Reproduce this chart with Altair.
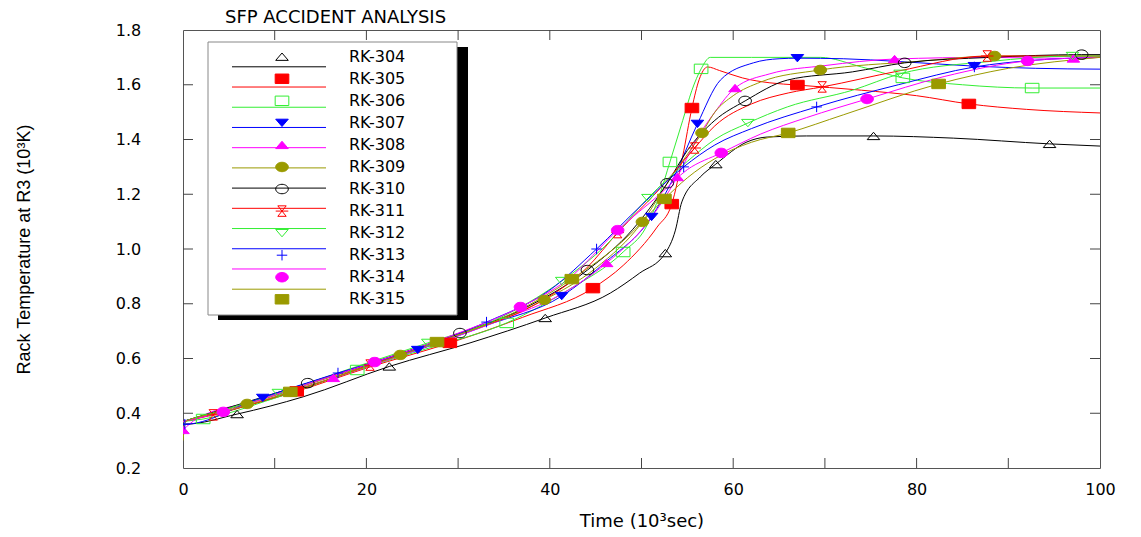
import altair as alt
import pandas as pd

# ---------------- data ----------------
SERIES = ["RK-304", "RK-305", "RK-306", "RK-307", "RK-308", "RK-309",
          "RK-310", "RK-311", "RK-312", "RK-313", "RK-314", "RK-315"]
COLORS = ["#000000", "#ff0000", "#33ee33", "#0000ff", "#ff00ff", "#9a9a00",
          "#000000", "#ff0000", "#33ee33", "#0000ff", "#ff00ff", "#9a9a00"]

X_304 = [0, 0.2, 5.9, 13.1, 22.5, 31.3, 39.5, 46.6, 49.8, 52.6, 53.7, 54.4, 56.4, 58.1, 61.5, 63.7, 68, 75.3, 84, 94.5, 100]
T_304 = [0.36, 0.36, 0.397, 0.46, 0.571, 0.657, 0.748, 0.839, 0.912, 0.985, 1.069, 1.172, 1.263, 1.31, 1.391, 1.409, 1.413, 1.413, 1.405, 1.384, 1.376]
MX_304 = [5.9, 22.5, 39.5, 52.6, 58.1, 75.3, 94.5]
MT_304 = [0.397, 0.571, 0.748, 0.985, 1.31, 1.413, 1.384]

X_305 = [0, 5, 12.4, 20, 29.1, 37, 44.7, 48, 51.7, 53.3, 54.5, 55.5, 56.3, 57.2, 58.5, 61, 64, 67, 74, 80, 85.7, 92, 100]
T_305 = [0.37, 0.41, 0.48, 0.565, 0.657, 0.75, 0.857, 0.94, 1.08, 1.164, 1.34, 1.515, 1.62, 1.665, 1.652, 1.625, 1.607, 1.599, 1.58, 1.56, 1.53, 1.51, 1.497]
MX_305 = [12.4, 29.1, 44.7, 53.3, 55.5, 67, 85.7]
MT_305 = [0.48, 0.657, 0.857, 1.164, 1.515, 1.599, 1.53]

X_306 = [0, 2.2, 10, 19, 27, 35.3, 42, 48, 50.5, 52, 53.1, 54.5, 55.5, 56.5, 57.5, 62, 69.5, 74, 78.5, 85, 92.6, 100]
T_306 = [0.37, 0.379, 0.455, 0.558, 0.64, 0.73, 0.85, 0.989, 1.08, 1.2, 1.318, 1.47, 1.58, 1.658, 1.70, 1.70, 1.70, 1.665, 1.625, 1.60, 1.588, 1.588]
MX_306 = [2.2, 19, 35.3, 48, 53.1, 56.5, 78.5, 92.6]
MT_306 = [0.379, 0.558, 0.73, 0.989, 1.318, 1.658, 1.625, 1.588]

X_307 = [0, 8.7, 17, 25.6, 33, 41.3, 46, 51.1, 53.5, 56.1, 58.6, 62.2, 65, 67, 72, 78, 86.3, 93, 100]
T_307 = [0.37, 0.456, 0.545, 0.631, 0.72, 0.828, 0.95, 1.117, 1.26, 1.457, 1.617, 1.68, 1.695, 1.697, 1.695, 1.685, 1.668, 1.66, 1.657]
MX_307 = [8.7, 25.6, 41.3, 51.1, 56.1, 67, 86.3]
MT_307 = [0.456, 0.631, 0.828, 1.117, 1.457, 1.697, 1.668]

X_308 = [0, 1.5, 8, 16.4, 25, 35, 41, 46.2, 50.5, 53.9, 56, 58, 60.2, 64, 70, 77.6, 88, 97.1, 100]
T_308 = [0.339, 0.38, 0.445, 0.529, 0.625, 0.745, 0.83, 0.949, 1.09, 1.263, 1.40, 1.50, 1.588, 1.64, 1.67, 1.694, 1.70, 1.696, 1.70]
MX_308 = [0, 16.4, 46.2, 53.9, 60.2, 77.6, 97.1]
MT_308 = [0.339, 0.529, 0.949, 1.263, 1.588, 1.694, 1.696]

X_309 = [0, 7, 15, 23.7, 31, 39.4, 45, 50.1, 53, 56.6, 58, 60, 63, 69.5, 80, 88.5, 100]
T_309 = [0.37, 0.434, 0.52, 0.613, 0.70, 0.814, 0.93, 1.099, 1.25, 1.424, 1.50, 1.56, 1.61, 1.654, 1.685, 1.705, 1.705]
MX_309 = [7, 23.7, 39.4, 50.1, 56.6, 69.5, 88.5]
MT_309 = [0.434, 0.613, 0.814, 1.099, 1.424, 1.654, 1.705]

X_310 = [0, 13.6, 22, 30.2, 37, 44.1, 49, 52.8, 55, 58, 61.3, 65.9, 73, 78.7, 88, 98, 100]
T_310 = [0.37, 0.51, 0.60, 0.693, 0.78, 0.923, 1.07, 1.24, 1.36, 1.47, 1.541, 1.617, 1.647, 1.68, 1.70, 1.71, 1.71]
MX_310 = [13.6, 30.2, 44.1, 52.8, 61.3, 78.7, 98]
MT_310 = [0.51, 0.693, 0.923, 1.24, 1.541, 1.68, 1.71]

X_311 = [0, 3.3, 12, 20.4, 30, 38, 44, 47.4, 52, 55.8, 58, 62, 66, 69.7, 78, 87.7, 100]
T_311 = [0.37, 0.394, 0.48, 0.576, 0.69, 0.79, 0.93, 1.06, 1.22, 1.369, 1.45, 1.53, 1.57, 1.592, 1.65, 1.705, 1.705]
MX_311 = [3.3, 20.4, 47.4, 55.8, 69.7, 87.7]
MT_311 = [0.394, 0.576, 1.06, 1.369, 1.592, 1.705]

X_312 = [0, 10.4, 18, 26.7, 34, 41.3, 46, 50.7, 55, 58, 61.6, 65.9, 73, 78.2, 88, 97, 100]
T_312 = [0.37, 0.474, 0.56, 0.657, 0.74, 0.883, 1.01, 1.186, 1.32, 1.40, 1.46, 1.519, 1.58, 1.64, 1.685, 1.705, 1.705]
MX_312 = [10.4, 26.7, 41.3, 50.7, 61.6, 78.2, 97]
MT_312 = [0.474, 0.657, 0.883, 1.186, 1.46, 1.64, 1.705]

X_313 = [0, 0.2, 8, 16.9, 25, 33.1, 40, 45.1, 50, 54.6, 58, 62, 69.1, 78, 86.3, 93, 100]
T_313 = [0.36, 0.36, 0.45, 0.547, 0.63, 0.733, 0.85, 1.0, 1.16, 1.30, 1.38, 1.44, 1.519, 1.60, 1.665, 1.69, 1.70]
MX_313 = [0.2, 16.9, 33.1, 45.1, 54.6, 69.1, 86.3]
MT_313 = [0.36, 0.547, 0.733, 1.0, 1.30, 1.519, 1.665]

X_314 = [0, 4.4, 12, 20.9, 29, 36.8, 42, 47.4, 52, 55, 58.7, 63, 68, 74.6, 83, 92.1, 100]
T_314 = [0.37, 0.405, 0.49, 0.587, 0.68, 0.788, 0.89, 1.069, 1.2, 1.29, 1.351, 1.42, 1.48, 1.548, 1.63, 1.687, 1.70]
MX_314 = [4.4, 20.9, 36.8, 47.4, 58.7, 74.6, 92.1]
MT_314 = [0.405, 0.587, 0.788, 1.069, 1.351, 1.548, 1.687]

X_315 = [0, 0.3, 5, 11.7, 20, 27.7, 35, 42.4, 48, 52.5, 55, 58, 62, 66, 72, 82.4, 90, 100]
T_315 = [0.30, 0.37, 0.41, 0.478, 0.57, 0.66, 0.75, 0.89, 1.03, 1.183, 1.26, 1.33, 1.39, 1.424, 1.49, 1.603, 1.66, 1.70]
MX_315 = [11.7, 27.7, 42.4, 52.5, 66, 82.4]
MT_315 = [0.478, 0.66, 0.89, 1.183, 1.424, 1.603]

X_LABELS = [0, 20, 40, 60, 80, 100]
X_MINOR = [10, 20, 30, 40, 50, 60, 70, 80, 90]
Y_LABELS = [0.2, 0.4, 0.6, 0.8, 1.0, 1.2, 1.4, 1.6, 1.8]
Y_MINOR = [0.4, 0.6, 0.8, 1.0, 1.2, 1.4, 1.6]

# ---------------- marker styles ----------------
TRI_UP = "M-1.2,0.7L0,-0.7L1.2,0.7Z"
TRI_DOWN = "M-1.2,-0.7L1.2,-0.7L0,0.7Z"
RECT = "M-1.3,-0.9H1.3V0.9H-1.3Z"
ELLIPSE = "M-1.2,0A1.2,0.9,0,1,0,1.2,0A1.2,0.9,0,1,0,-1.2,0Z"
HOURGLASS = "M-0.8,-1H0.8L-0.8,1H0.8L-0.8,-1M-1.2,0H1.2"
PLUS = "M0,-1V1M-1,0H1"
SHAPES = [TRI_UP, RECT, RECT, TRI_DOWN, TRI_UP, ELLIPSE,
          ELLIPSE, HOURGLASS, TRI_DOWN, PLUS, ELLIPSE, RECT]
FILLS = ["transparent", "#ff0000", "transparent", "#0000ff", "#ff00ff", "#9a9a00",
         "transparent", "transparent", "transparent", "transparent", "#ff00ff", "#9a9a00"]

CURVES = [(X_304, T_304), (X_305, T_305), (X_306, T_306), (X_307, T_307),
          (X_308, T_308), (X_309, T_309), (X_310, T_310), (X_311, T_311),
          (X_312, T_312), (X_313, T_313), (X_314, T_314), (X_315, T_315)]
MARKS = [(MX_304, MT_304), (MX_305, MT_305), (MX_306, MT_306), (MX_307, MT_307),
         (MX_308, MT_308), (MX_309, MT_309), (MX_310, MT_310), (MX_311, MT_311),
         (MX_312, MT_312), (MX_313, MT_313), (MX_314, MT_314), (MX_315, MT_315)]

line_rows, mark_rows = [], []
for name, (xs_, ts_), (mx_, mt_) in zip(SERIES, CURVES, MARKS):
    for i, (a, b) in enumerate(zip(xs_, ts_)):
        line_rows.append({"series": name, "x": a, "T": b, "i": i})
    for a, b in zip(mx_, mt_):
        mark_rows.append({"series": name, "x": a, "T": b})
line_df = pd.DataFrame(line_rows)
mark_df = pd.DataFrame(mark_rows)
leg_df = pd.DataFrame({"series": SERIES})
one_df = pd.DataFrame({"k": [0]})

W, H = 917, 438
FONT = "DejaVu Sans"

xsc = alt.Scale(domain=[0, 100], nice=False, zero=False)
ysc = alt.Scale(domain=[0.2, 1.8], nice=False, zero=False)
stroke_scale = alt.Scale(domain=SERIES, range=COLORS)
fill_scale = alt.Scale(domain=SERIES, range=FILLS)
shape_scale = alt.Scale(domain=SERIES, range=SHAPES)

X_AXIS = alt.Axis(values=X_LABELS, format="d", title="Time (10³sec)",
                  labelPadding=13, labelFlush=False, labelOverlap=False,
                  titleY=44, titleFontSize=18)


def xenc(field):
    return alt.X(field, scale=xsc, axis=X_AXIS)


lines = alt.Chart(line_df).mark_line(strokeWidth=1, interpolate="monotone", clip=True).encode(
    x=xenc("x:Q"),
    y=alt.Y("T:Q", scale=ysc,
            axis=alt.Axis(values=Y_LABELS, format=".1f", title="Rack Temperature at R3 (10³K)",
                          labelAlign="center", labelPadding=55, labelFlush=False,
                          labelOverlap=False, titleX=-150, titleY=H / 2,
                          titleFont="Liberation Sans", titleFontSize=18)),
    stroke=alt.Stroke("series:N", scale=stroke_scale, legend=None),
    order=alt.Order("i:Q"),
)

points = alt.Chart(mark_df).mark_point(size=110, strokeWidth=1, opacity=1, clip=True).encode(
    x=xenc("x:Q"),
    y=alt.Y("T:Q", scale=ysc, axis=None),
    stroke=alt.Stroke("series:N", scale=stroke_scale, legend=None),
    fill=alt.Fill("series:N", scale=fill_scale, legend=None),
    shape=alt.Shape("series:N", scale=shape_scale, legend=None),
)

shadow = alt.Chart(one_df).mark_rect(fill="black").encode(
    x=alt.value(35), x2=alt.value(285), y=alt.value(17), y2=alt.value(290))
box = alt.Chart(one_df).mark_rect(fill="white", stroke="#888888", strokeWidth=1).encode(
    x=alt.value(25), x2=alt.value(274), y=alt.value(12), y2=alt.value(285))

ly = alt.Y("series:N", scale=alt.Scale(domain=SERIES, range=[26.7, 269.3], padding=0), axis=None)
leg_rules = alt.Chart(leg_df).mark_rule(strokeWidth=1).encode(
    x=alt.value(49), x2=alt.value(143), y=ly,
    stroke=alt.Stroke("series:N", scale=stroke_scale, legend=None))
leg_pts = alt.Chart(leg_df).mark_point(size=110, strokeWidth=1, opacity=1).encode(
    x=alt.value(99), y=ly,
    stroke=alt.Stroke("series:N", scale=stroke_scale, legend=None),
    fill=alt.Fill("series:N", scale=fill_scale, legend=None),
    shape=alt.Shape("series:N", scale=shape_scale, legend=None))
leg_txt = alt.Chart(leg_df).mark_text(align="left", baseline="middle", fontSize=16,
                                      font=FONT, color="black").encode(
    x=alt.value(166), y=ly, text="series:N")

xt_df = pd.DataFrame({"v": X_MINOR})
yt_df = pd.DataFrame({"v": Y_MINOR})
xt_bot = alt.Chart(xt_df).mark_rule(color="#444444").encode(
    x=xenc("v:Q"), y=alt.value(H), y2=alt.value(H - 10))
xt_top = alt.Chart(xt_df).mark_rule(color="#444444").encode(
    x=xenc("v:Q"), y=alt.value(0), y2=alt.value(10))
yt_left = alt.Chart(yt_df).mark_rule(color="#444444").encode(
    y=alt.Y("v:Q", scale=ysc, axis=None), x=alt.value(0), x2=alt.value(10))
yt_right = alt.Chart(yt_df).mark_rule(color="#444444").encode(
    y=alt.Y("v:Q", scale=ysc, axis=None), x=alt.value(W - 10), x2=alt.value(W))

chart = alt.layer(
    lines, points, shadow, box, leg_rules, leg_pts, leg_txt,
    xt_bot, xt_top, yt_left, yt_right,
).resolve_scale(y="independent").properties(
    width=W, height=H,
    title=alt.TitleParams("SFP ACCIDENT ANALYSIS", anchor="start", frame="group", dx=42,
                          dy=13, offset=8, fontSize=18, font=FONT, fontWeight="normal",
                          color="black"),
    padding={"left": 183, "top": 30, "right": 41, "bottom": 69},
    autosize="none",
).configure_view(
    stroke="#555555", strokeWidth=1
).configure_axis(
    domain=False, ticks=False, tickSize=0, grid=False,
    labelFont=FONT, labelFontSize=16, labelColor="black",
    titleFont=FONT, titleFontWeight="normal", titleColor="black",
)

chart.save("out.html", embed_options={"renderer": "svg", "actions": False})
